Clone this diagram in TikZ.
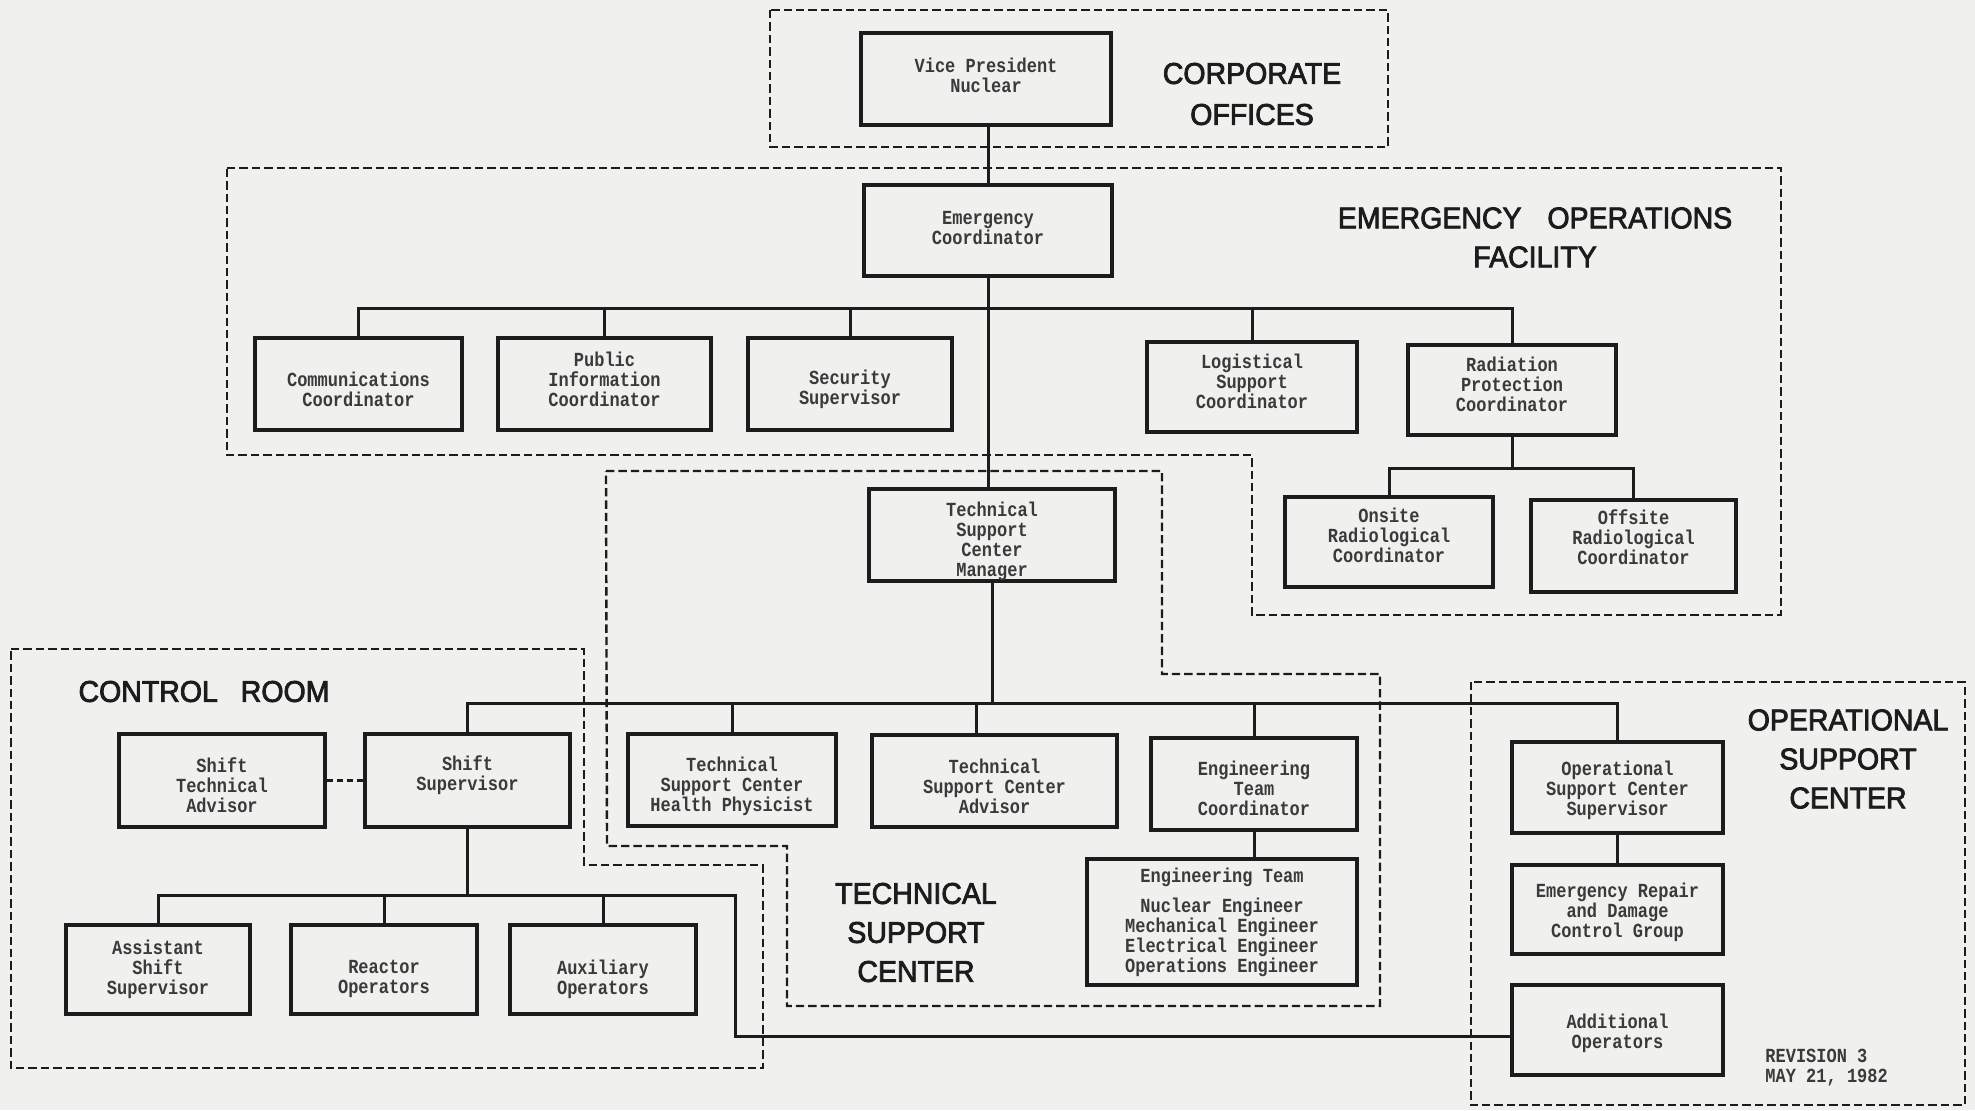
\documentclass[tikz,border=0pt]{standalone}
\usepackage{fontspec}
\newfontfamily\boxfont[FakeStretch=0.85]{Liberation Mono}
\newfontfamily\areafont[FakeBold=2.6, FakeStretch=0.95]{Liberation Sans}
\definecolor{paper}{RGB}{240,240,238}
\definecolor{ink}{RGB}{28,28,28}
\definecolor{typed}{RGB}{58,58,58}
\tikzset{
  box/.style={draw=ink, line width=1.65pt, inner sep=0pt},
  wh/.style 2 args={minimum width=#1*0.5pt, minimum height=#2*0.5pt},
  boxtext/.style={font=\boxfont\bfseries\fontsize{10}{10}\selectfont, text=typed, align=center, inner sep=0pt},
  tx/.style 2 args={label={[boxtext, yshift={-(#1)*0.5pt}]center:{#2}}},
  link/.style={draw=ink, line width=1.5pt},
  area/.style={draw=ink, line width=1.2pt, dash pattern=on 4.2pt off 2pt},
  arealabel/.style={font=\areafont\fontsize{15}{19.5}\selectfont, text=ink, align=center, inner sep=0pt},
}
\begin{document}
\begin{tikzpicture}[x=0.5pt, y=-0.5pt]
\path[use as bounding box, fill=paper] (0,0) rectangle (1975,1110);

% organisational areas
\draw[area] (770,10) rectangle (1388,147);
\draw[area] (227,168) -- (1781,168) -- (1781,615) -- (1252,615) -- (1252,455) -- (227,455) -- cycle;
\draw[area] (606,471) -- (1162,471) -- (1162,674) -- (1380,674) -- (1380,1006) -- (787,1006) -- (787,846) -- (607,846) -- cycle;
\draw[area] (11,649) -- (584,649) -- (584,865) -- (763,865) -- (763,1068) -- (11,1068) -- cycle;
\draw[area] (1471,682) rectangle (1965,1105);

% area titles
\node[arealabel] (corplabel) at (1252,94) {CORPORATE\\[1pt]OFFICES};
\node[arealabel] (eoflabel) at (1535,237.5) {EMERGENCY\hspace{0.6em} OPERATIONS\\FACILITY};
\node[arealabel] (crlabel) at (204,691.5) {CONTROL\hspace{0.5em} ROOM};
\node[arealabel] (tsclabel) at (916,932.5) {TECHNICAL\\SUPPORT\\CENTER};
\node[arealabel] (osclabel) at (1848,759) {OPERATIONAL\\SUPPORT\\CENTER};

% positions
\node[box, wh={250}{92}, tx={-4}{Vice President\\Nuclear}] (vp) at (986,79) {};
\node[box, wh={248}{91}, tx={-2}{Emergency\\Coordinator}] (ec) at (988,230.5) {};
\node[box, wh={207}{92}, tx={5}{Communications\\Coordinator}] (comm) at (358.5,384) {};
\node[box, wh={213}{92}, tx={-5}{Public\\Information\\Coordinator}] (pub) at (604.5,384) {};
\node[box, wh={204}{92}, tx={5}{Security\\Supervisor}] (sec) at (850,384) {};
\node[box, wh={210}{90}, tx={-6}{Logistical\\Support\\Coordinator}] (log) at (1252,387) {};
\node[box, wh={208}{90}, tx={-6}{Radiation\\Protection\\Coordinator}] (rad) at (1512,390) {};
\node[box, wh={208}{90}, tx={-7}{Onsite\\Radiological\\Coordinator}] (onsite) at (1389,542) {};
\node[box, wh={205}{92}, tx={-9}{Offsite\\Radiological\\Coordinator}] (offsite) at (1633.5,546) {};
\node[box, wh={246}{92}, tx={6.5}{Technical\\Support\\Center\\Manager}] (tscm) at (992,535) {};
\node[box, wh={206}{93}, tx={4.5}{Shift\\Technical\\Advisor}] (sta) at (222,780.5) {};
\node[box, wh={205}{93}, tx={-5.5}{Shift\\Supervisor}] (ssup) at (467.5,780.5) {};
\node[box, wh={184}{89}, tx={0}{Assistant\\Shift\\Supervisor}] (asst) at (158,969.5) {};
\node[box, wh={186}{89}, tx={9.5}{Reactor\\Operators}] (reop) at (384,969.5) {};
\node[box, wh={186}{89}, tx={9.5}{Auxiliary\\Operators}] (auxop) at (603,969.5) {};
\node[box, wh={208}{92}, tx={6}{Technical\\Support Center\\Health Physicist}] (tschp) at (732,780) {};
\node[box, wh={245}{92}, tx={5}{Technical\\Support Center\\Advisor}] (tsca) at (994.5,781) {};
\node[box, wh={206}{92}, tx={4}{Engineering\\Team\\Coordinator}] (etc) at (1254,784) {};
\node[box, wh={270}{126}, tx={0}{Engineering Team\\[5pt]Nuclear Engineer\\Mechanical Engineer\\Electrical Engineer\\Operations Engineer}] (eteam) at (1222,922) {};
\node[box, wh={211}{91}, tx={2.5}{Operational\\Support Center\\Supervisor}] (oscs) at (1617.5,787.5) {};
\node[box, wh={211}{89}, tx={2.5}{Emergency Repair\\and Damage\\Control Group}] (erep) at (1617.5,909.5) {};
\node[box, wh={211}{90}, tx={3}{Additional\\Operators}] (addop) at (1617.5,1030) {};

\node[boxtext, align=left, anchor=west] (rev) at (1765,1068) {REVISION 3\\MAY 21, 1982};

% bus points
\coordinate (eofbus) at (988,308);
\coordinate (radbus) at (1512,468);
\coordinate (tscbus) at (992,703);
\coordinate (crbus) at (467.5,895);
\coordinate (crturn) at (735,895);
\coordinate (tscatop) at ([xshift=-9pt]tsca.north);
\coordinate (addin) at ([yshift=-3pt]addop.west);

% reporting lines
\draw[link] (vp.south -| ec.north) -- (ec.north);
\draw[link] (ec.south) -- (ec.south |- tscm.north);
\draw[link] (comm.north) |- (eofbus) -| (rad.north);
\draw[link] (pub.north) -- (pub.north |- eofbus);
\draw[link] (sec.north) -- (sec.north |- eofbus);
\draw[link] (log.north) -- (log.north |- eofbus);
\draw[link] (rad.south) -- (radbus);
\draw[link] (onsite.north) |- (radbus) -| (offsite.north);
\draw[link] (tscm.south) -- (tscbus);
\draw[link] (ssup.north) |- (tscbus) -| (oscs.north);
\draw[link] (tschp.north) -- (tschp.north |- tscbus);
\draw[link] (tscatop) -- (tscatop |- tscbus);
\draw[link] (etc.north) -- (etc.north |- tscbus);
\draw[link] (etc.south) -- (etc.south |- eteam.north);
\draw[link] (oscs.south) -- (erep.north);
\draw[link] (ssup.south) -- (crbus);
\draw[link] (asst.north) |- (crbus) -- (crturn) |- (addin);
\draw[link] (reop.north) -- (reop.north |- crbus);
\draw[link] (auxop.north) -- (auxop.north |- crbus);
\draw[link, dash pattern=on 3pt off 2pt] (sta.east) -- (ssup.west);
\end{tikzpicture}
\end{document}
